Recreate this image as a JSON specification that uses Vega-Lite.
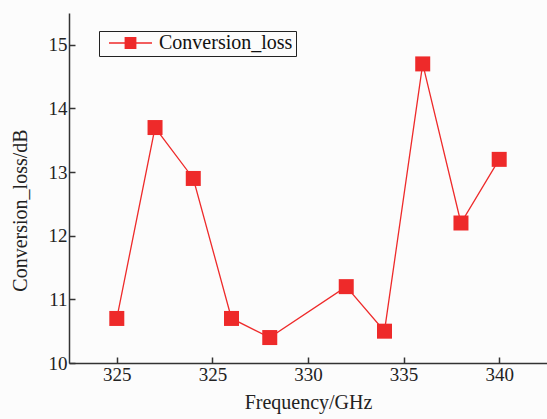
{
  "$schema": "https://vega.github.io/schema/vega-lite/v6.json",
  "width": 478,
  "height": 350,
  "autosize": {"type": "none"},
  "padding": {"left": 69, "top": 13, "right": 0, "bottom": 56},
  "background": "#fcfcfc",
  "config": {
    "view": {"stroke": null},
    "font": "Liberation Serif",
    "style": {
      "guide-label": {"font": "Liberation Serif"},
      "guide-title": {"font": "Liberation Serif"}
    },
    "axis": {"labelFont": "Liberation Serif", "titleFont": "Liberation Serif"},
    "legend": {"labelFont": "Liberation Serif"}
  },
  "data": {
    "values": [
      {"f": 320, "loss": 10.7, "series": "Conversion_loss"},
      {"f": 322, "loss": 13.7, "series": "Conversion_loss"},
      {"f": 324, "loss": 12.9, "series": "Conversion_loss"},
      {"f": 326, "loss": 10.7, "series": "Conversion_loss"},
      {"f": 328, "loss": 10.4, "series": "Conversion_loss"},
      {"f": 332, "loss": 11.2, "series": "Conversion_loss"},
      {"f": 334, "loss": 10.5, "series": "Conversion_loss"},
      {"f": 336, "loss": 14.7, "series": "Conversion_loss"},
      {"f": 338, "loss": 12.2, "series": "Conversion_loss"},
      {"f": 340, "loss": 13.2, "series": "Conversion_loss"}
    ]
  },
  "encoding": {
    "x": {
      "field": "f",
      "type": "quantitative",
      "scale": {"domain": [317.5, 342.5], "nice": false, "zero": false},
      "axis": {
        "values": [320, 325, 330, 335, 340],
        "labelExpr": "datum.value == 320 ? '325' : datum.label",
        "title": "Frequency/GHz",
        "grid": false,
        "domainColor": "#333333",
        "domainWidth": 1.5,
        "tickColor": "#333333",
        "tickWidth": 1.5,
        "tickSize": -6,
        "labelPadding": 8,
        "labelFontSize": 19,
        "labelColor": "#222222",
        "labelFont": "Liberation Serif",
        "titleFontSize": 20,
        "titleFont": "Liberation Serif",
        "titleFontWeight": "normal",
        "titleColor": "#222222",
        "titleBaseline": "alphabetic",
        "titleY": 45
      }
    },
    "y": {
      "field": "loss",
      "type": "quantitative",
      "scale": {"domain": [10, 15.5], "nice": false, "zero": false},
      "axis": {
        "values": [10, 11, 12, 13, 14, 15],
        "title": "Conversion_loss/dB",
        "grid": false,
        "domainColor": "#333333",
        "domainWidth": 1.5,
        "tickColor": "#333333",
        "tickWidth": 1.5,
        "tickSize": -6,
        "labelPadding": 8,
        "labelFontSize": 19,
        "labelColor": "#222222",
        "labelFont": "Liberation Serif",
        "titleFontSize": 20,
        "titleFont": "Liberation Serif",
        "titleFontWeight": "normal",
        "titleColor": "#222222",
        "titleBaseline": "middle",
        "titleX": -49,
        "titleY": 197
      }
    },
    "color": {
      "field": "series",
      "type": "nominal",
      "scale": {"range": ["#ee2a2a"]},
      "legend": {
        "title": null,
        "orient": "none",
        "legendX": 30,
        "legendY": 18,
        "strokeColor": "#222222",
        "padding": 3,
        "clipHeight": 18,
        "labelFontSize": 20,
        "labelFont": "Liberation Serif",
        "labelColor": "#111111",
        "symbolType": "M-1,0L1,0M-0.24,-0.24L0.24,-0.24L0.24,0.24L-0.24,0.24Z",
        "symbolSize": 1849,
        "symbolStrokeWidth": 1.5,
        "symbolFillColor": "#ee2a2a",
        "symbolStrokeColor": "#ee2a2a",
        "symbolOffset": 6,
        "labelOffset": 6
      }
    }
  },
  "layer": [
    {"mark": {"type": "line", "strokeWidth": 1.3}},
    {"mark": {"type": "point", "shape": "square", "size": 225, "filled": true, "opacity": 1}}
  ]
}
